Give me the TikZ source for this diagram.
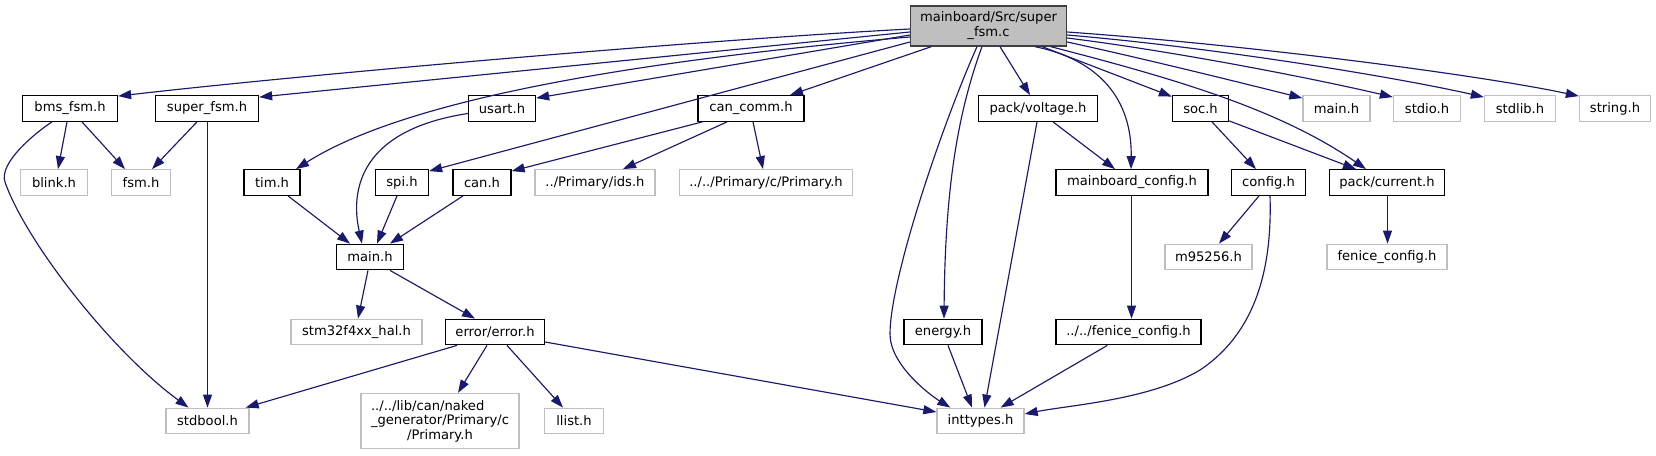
\documentclass[tikz,border=0pt]{standalone}
\usepackage{fontspec}
\setmainfont{DejaVu Sans}
\usetikzlibrary{arrows.meta}
\definecolor{edgec}{HTML}{191970}
\definecolor{grayb}{HTML}{BFBFBF}
\definecolor{rootb}{HTML}{404040}
\begin{document}
\begin{tikzpicture}[x=1pt,y=-1pt,
  box/.style={draw=black, line width=1.3pt, rectangle, inner sep=0pt, minimum height=25.5pt, font=\fontsize{13.1}{15}\selectfont, text=black},
  gbox/.style={box, draw=grayb},
  rootbox/.style={box, draw=rootb, fill=grayb, minimum height=40pt, align=center},
  edge/.style={draw=edgec, line width=1.15pt, -{Triangle[length=13pt,width=9pt]}}]
\path[fill=white, use as bounding box] (0,0) rectangle (1656,455);
% nodes
\node[rootbox, minimum width=156pt] (root) at (988.5,26) {mainboard/Src/super\\\_fsm.c};
\node[box, minimum width=95pt] (bms) at (70,108.5) {bms\_fsm.h};
\node[box, minimum width=103pt] (superh) at (207,108.5) {super\_fsm.h};
\node[box, minimum width=67pt] (usart) at (502,108.5) {usart.h};
\node[box, minimum width=106pt] (cancomm) at (751,108.5) {can\_comm.h};
\node[box, minimum width=119pt] (voltage) at (1038,108.5) {pack/voltage.h};
\node[box, minimum width=56pt] (soc) at (1200.5,108.5) {soc.h};
\node[gbox, minimum width=67pt] (mainhg) at (1336.5,108.5) {main.h};
\node[gbox, minimum width=67pt] (stdio) at (1427,108.5) {stdio.h};
\node[gbox, minimum width=71pt] (stdlib) at (1520,108.5) {stdlib.h};
\node[gbox, minimum width=71pt] (string) at (1615,108.5) {string.h};
\node[gbox, minimum width=67pt] (blink) at (54,182.5) {blink.h};
\node[gbox, minimum width=59pt] (fsm) at (141,182.5) {fsm.h};
\node[box, minimum width=56pt] (tim) at (272,182.5) {tim.h};
\node[box, minimum width=53pt] (spi) at (402,182.5) {spi.h};
\node[box, minimum width=58pt] (can) at (482,182.5) {can.h};
\node[gbox, minimum width=120pt] (ids) at (595,182.5) {../Primary/ids.h};
\node[gbox, minimum width=173pt] (primary) at (766,182.5) {../../Primary/c/Primary.h};
\node[box, minimum width=152pt] (mbconf) at (1132,182.5) {mainboard\_config.h};
\node[box, minimum width=74pt] (config) at (1268.5,182.5) {config.h};
\node[box, minimum width=115pt] (current) at (1387,182.5) {pack/current.h};
\node[box, minimum width=67pt] (mainh) at (370,257) {main.h};
\node[gbox, minimum width=87pt] (m95256) at (1208.5,257) {m95256.h};
\node[gbox, minimum width=120pt] (fenice) at (1387,257) {fenice\_config.h};
\node[gbox, minimum width=131pt] (stm32) at (356.5,332) {stm32f4xx\_hal.h};
\node[box, minimum width=99pt] (error) at (495,332) {error/error.h};
\node[box, minimum width=78pt] (energy) at (943,332) {energy.h};
\node[box, minimum width=145pt] (fenice2) at (1128.5,332) {../../fenice\_config.h};
\node[gbox, minimum width=83pt] (stdbool) at (207.5,421) {stdbool.h};
\node[gbox, minimum width=158pt, minimum height=55pt, align=center, font=\fontsize{13.1}{14.5}\selectfont] (naked) at (440,421)
  {\makebox[0pt][l]{../../lib/can/naked}\phantom{\_generator/Primary/c}\\\_generator/Primary/c\\/Primary.h};
\node[gbox, minimum width=59pt] (llist) at (574,421) {llist.h};
\node[gbox, minimum width=87pt] (inttypes) at (980.5,421) {inttypes.h};
% edges from root
\draw[edge] ([yshift=-3pt]root.west) .. controls (700,40) and (300,75) .. ([yshift=-1pt]bms.north east);
\draw[edge] ([yshift=-6pt]root.west) -- ([yshift=-2pt]superh.north east);
\draw[edge] ([yshift=-9pt]root.west) -- ([yshift=-3pt]usart.north east);
\draw[edge] ([yshift=-11pt]root.west) .. controls (700,55) and (420,90) .. ([xshift=24pt]tim.north);
\draw[edge] ([yshift=-16pt]root.west) -- ([yshift=-2pt]spi.north east);
\draw[edge] ([xshift=21.5pt]root.south west) -- ([xshift=39pt]cancomm.north);
\draw[edge] ([xshift=-11.5pt]root.south) .. controls (940,130) and (890,280) .. (890,334) .. controls (890,365) and (930,395) .. ([xshift=14pt]inttypes.north west);
\draw[edge] ([xshift=-6.5pt]root.south) .. controls (955,120) and (945,200) .. ([xshift=1pt]energy.north);
\draw[edge] ([xshift=11.5pt]root.south) -- ([xshift=-8pt]voltage.north);
\draw[edge] ([xshift=46.5pt]root.south) .. controls (1100,60) and (1132,100) .. ([xshift=-1pt]mbconf.north);
\draw[edge] ([xshift=-25pt]root.south east) -- ([yshift=-1.5pt]soc.north west);
\draw[edge] ([yshift=-16pt]root.east) .. controls (1150,60) and (1250,85) .. ([yshift=-3pt]mainhg.north west);
\draw[edge] ([yshift=-12pt]root.east) .. controls (1180,52) and (1320,80) .. ([yshift=-2pt]stdio.north west);
\draw[edge] ([yshift=-9pt]root.east) .. controls (1220,48) and (1400,78) .. ([yshift=-2pt]stdlib.north west);
\draw[edge] ([yshift=-6pt]root.east) .. controls (1250,45) and (1480,75) .. ([yshift=-1pt]string.north west);
\draw[edge] ([xshift=-16.5pt]root.south east) .. controls (1180,80) and (1280,110) .. ([xshift=-21pt]current.north);
% other edges
\draw[edge] ([xshift=-3pt]bms.south) -- ([xshift=4pt]blink.north);
\draw[edge] ([xshift=12pt]bms.south) -- ([xshift=-16pt]fsm.north);
\draw[edge] ([xshift=-18pt]bms.south) .. controls (35,133) and (-1.5,163) .. (5,182) .. controls (25,240) and (110,350) .. ([xshift=-19pt]stdbool.north);
\draw[edge] ([xshift=-10pt]superh.south) -- ([xshift=11pt]fsm.north);
\draw[edge] ([xshift=0.5pt]superh.south) -- (stdbool.north);
\draw[edge] ([yshift=-5pt]usart.west) .. controls (360,130) and (350,190) .. ([xshift=-8pt]mainh.north);
\draw[edge] ([xshift=16pt]tim.south) -- ([xshift=-20pt]mainh.north);
\draw[edge] ([xshift=-5pt]spi.south) -- ([xshift=7pt]mainh.north);
\draw[edge] ([xshift=-19pt]can.south) -- ([xshift=20pt]mainh.north);
\draw[edge] ([xshift=5pt]cancomm.south west) -- ([yshift=-2pt]can.north east);
\draw[edge] ([xshift=-24pt]cancomm.south) -- ([xshift=28pt]ids.north);
\draw[edge] ([xshift=2pt]cancomm.south) -- ([xshift=-3pt]primary.north);
\draw[edge] ([xshift=-2pt]mainh.south) -- ([xshift=1.5pt]stm32.north);
\draw[edge] ([xshift=20pt]mainh.south) -- ([xshift=-20pt]error.north);
\draw[edge] ([xshift=-38pt]error.south) -- ([xshift=-4pt]stdbool.north east);
\draw[edge] ([xshift=-8pt]error.south) -- ([xshift=18pt]naked.north);
\draw[edge] ([xshift=12pt]error.south) -- ([xshift=-11pt]llist.north);
\draw[edge] ([yshift=-10pt]error.east) -- ([yshift=9pt]inttypes.west);
\draw[edge] ([xshift=15pt]voltage.south) -- ([xshift=-17pt]mbconf.north);
\draw[edge] ([xshift=-1pt]voltage.south) -- ([xshift=4pt]inttypes.north);
\draw[edge] ([xshift=-0.5pt]mbconf.south) -- ([xshift=3pt]fenice2.north);
\draw[edge] ([xshift=52pt]fenice2.south west) -- ([xshift=-24pt]inttypes.north east);
\draw[edge] ([xshift=5pt]energy.south) -- ([xshift=-8.5pt]inttypes.north);
\draw[edge] ([xshift=-9.5pt]config.south) -- ([xshift=10.5pt]m95256.north);
\draw[edge] ([xshift=1.5pt]config.south) .. controls (1272,260) and (1260,330) .. (1200,370) .. controls (1150,400) and (1070,405) .. ([yshift=7pt]inttypes.east);
\draw[edge] ([xshift=11.5pt]soc.south) -- ([xshift=-12.5pt]config.north);
\draw[edge] ([yshift=1pt]soc.south east) -- ([xshift=-31pt]current.north);
\draw[edge] ([xshift=0.5pt]current.south) -- ([xshift=0.5pt]fenice.north);
\end{tikzpicture}
\end{document}
